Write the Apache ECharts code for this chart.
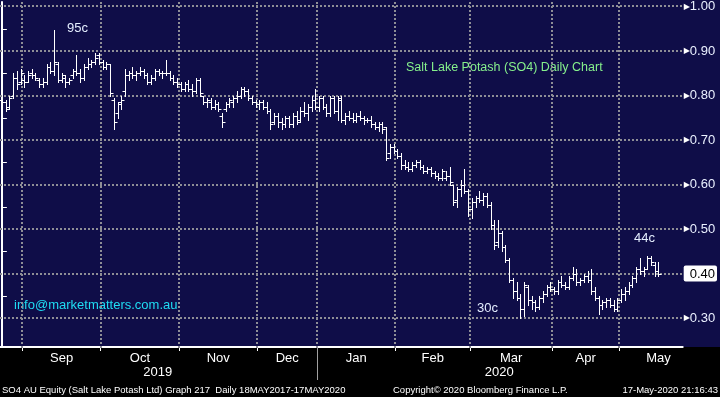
<!DOCTYPE html>
<html>
<head>
<meta charset="utf-8">
<script src="https://cdn.jsdelivr.net/npm/echarts@6/dist/echarts.min.js"></script>
<style>
html, body { margin: 0; padding: 0; background: #000; }
#main {
  width: 720px; height: 397px;
  background: linear-gradient(to bottom, #0f0d48 0px, #0f0d48 347px, #000000 347px, #000000 397px);
}
</style>
</head>
<body>
<div id="main"></div>
<script>
// month names for the x axis
var months = ['Sep', 'Oct', 'Nov', 'Dec', 'Jan', 'Feb', 'Mar', 'Apr', 'May'];
var years = ['2019', '2020'];
var priceTicks = [0.30, 0.40, 0.50, 0.60, 0.70, 0.80, 0.90, 1.00];
var minorTicks = [0.35, 0.45, 0.55, 0.65, 0.75, 0.85, 0.95];
var lastPrice = 0.40;

// daily bars, [open, high, low, close]
var aug = [
  [0.79, 0.80, 0.78, 0.785], [0.785, 0.79, 0.765, 0.77], [0.775, 0.80, 0.77, 0.795],
  [0.80, 0.85, 0.795, 0.84], [0.84, 0.855, 0.815, 0.825], [0.83, 0.86, 0.825, 0.85]
];
var sep = [
  [0.835, 0.845, 0.82, 0.83], [0.83, 0.855, 0.83, 0.845], [0.85, 0.86, 0.84, 0.845],
  [0.845, 0.85, 0.835, 0.84], [0.835, 0.84, 0.82, 0.825], [0.825, 0.84, 0.82, 0.83],
  [0.83, 0.87, 0.825, 0.865], [0.865, 0.875, 0.85, 0.855], [0.855, 0.947, 0.845, 0.875],
  [0.87, 0.875, 0.83, 0.835], [0.835, 0.85, 0.83, 0.845], [0.84, 0.845, 0.82, 0.83],
  [0.83, 0.84, 0.825, 0.835], [0.845, 0.86, 0.84, 0.855], [0.855, 0.89, 0.845, 0.85],
  [0.85, 0.86, 0.83, 0.84], [0.84, 0.87, 0.835, 0.865], [0.865, 0.885, 0.86, 0.87],
  [0.87, 0.88, 0.865, 0.875], [0.875, 0.895, 0.87, 0.885], [0.89, 0.895, 0.87, 0.875]
];
var oct = [
  [0.875, 0.88, 0.86, 0.865], [0.865, 0.875, 0.86, 0.87], [0.87, 0.87, 0.80, 0.805],
  [0.79, 0.795, 0.725, 0.74], [0.76, 0.785, 0.75, 0.78], [0.785, 0.80, 0.77, 0.79],
  [0.81, 0.86, 0.80, 0.845], [0.845, 0.855, 0.835, 0.85], [0.85, 0.865, 0.84, 0.845],
  [0.845, 0.855, 0.835, 0.85], [0.85, 0.865, 0.845, 0.855], [0.855, 0.86, 0.84, 0.845],
  [0.845, 0.85, 0.825, 0.83], [0.83, 0.845, 0.825, 0.84], [0.84, 0.86, 0.835, 0.855],
  [0.855, 0.86, 0.845, 0.85], [0.85, 0.855, 0.84, 0.85], [0.85, 0.88, 0.845, 0.85],
  [0.85, 0.855, 0.835, 0.84], [0.84, 0.845, 0.825, 0.83], [0.83, 0.84, 0.82, 0.825]
];
var nov = [
  [0.825, 0.83, 0.81, 0.815], [0.815, 0.83, 0.81, 0.825], [0.825, 0.835, 0.81, 0.815],
  [0.815, 0.825, 0.80, 0.81], [0.81, 0.84, 0.805, 0.835], [0.835, 0.84, 0.80, 0.805],
  [0.80, 0.80, 0.78, 0.785], [0.785, 0.795, 0.775, 0.79], [0.785, 0.795, 0.77, 0.775],
  [0.775, 0.79, 0.77, 0.78], [0.78, 0.785, 0.765, 0.77], [0.755, 0.76, 0.73, 0.74],
  [0.77, 0.785, 0.765, 0.78], [0.78, 0.795, 0.775, 0.79], [0.785, 0.80, 0.775, 0.795],
  [0.795, 0.81, 0.785, 0.80], [0.80, 0.82, 0.795, 0.815], [0.815, 0.82, 0.80, 0.81],
  [0.81, 0.815, 0.79, 0.795], [0.795, 0.80, 0.78, 0.785], [0.785, 0.79, 0.775, 0.78]
];
var dec = [
  [0.78, 0.79, 0.77, 0.785], [0.785, 0.79, 0.77, 0.775], [0.775, 0.785, 0.76, 0.765],
  [0.765, 0.77, 0.725, 0.735], [0.74, 0.76, 0.735, 0.755], [0.755, 0.76, 0.73, 0.74],
  [0.74, 0.75, 0.725, 0.735], [0.735, 0.755, 0.73, 0.75], [0.75, 0.755, 0.73, 0.735],
  [0.735, 0.76, 0.73, 0.755], [0.755, 0.765, 0.735, 0.74], [0.745, 0.775, 0.74, 0.765],
  [0.765, 0.785, 0.755, 0.76], [0.76, 0.78, 0.745, 0.775], [0.775, 0.80, 0.765, 0.79],
  [0.79, 0.815, 0.77, 0.775]
];
var jan = [
  [0.775, 0.80, 0.765, 0.795], [0.795, 0.80, 0.77, 0.775], [0.775, 0.78, 0.755, 0.76],
  [0.76, 0.80, 0.755, 0.795], [0.795, 0.80, 0.76, 0.765], [0.765, 0.80, 0.745, 0.795],
  [0.79, 0.80, 0.74, 0.745], [0.745, 0.76, 0.735, 0.755], [0.755, 0.765, 0.745, 0.75],
  [0.75, 0.76, 0.74, 0.745], [0.745, 0.76, 0.74, 0.755], [0.755, 0.765, 0.745, 0.75],
  [0.75, 0.755, 0.735, 0.745], [0.745, 0.75, 0.74, 0.745], [0.745, 0.755, 0.73, 0.735],
  [0.735, 0.74, 0.725, 0.73], [0.73, 0.74, 0.72, 0.735], [0.735, 0.74, 0.715, 0.725],
  [0.73, 0.73, 0.655, 0.66], [0.67, 0.69, 0.66, 0.685], [0.685, 0.69, 0.67, 0.675]
];
var feb = [
  [0.675, 0.68, 0.66, 0.665], [0.665, 0.67, 0.635, 0.645], [0.645, 0.655, 0.635, 0.64],
  [0.64, 0.65, 0.63, 0.635], [0.635, 0.65, 0.63, 0.645], [0.645, 0.655, 0.64, 0.65],
  [0.65, 0.655, 0.635, 0.64], [0.64, 0.645, 0.625, 0.63], [0.63, 0.64, 0.625, 0.635],
  [0.635, 0.64, 0.62, 0.625], [0.625, 0.63, 0.615, 0.62], [0.62, 0.625, 0.61, 0.615],
  [0.615, 0.635, 0.61, 0.63], [0.615, 0.63, 0.61, 0.62], [0.62, 0.64, 0.60, 0.605],
  [0.60, 0.60, 0.555, 0.56], [0.565, 0.595, 0.55, 0.59], [0.59, 0.61, 0.575, 0.60],
  [0.60, 0.635, 0.58, 0.585], [0.585, 0.59, 0.53, 0.545]
];
var mar = [
  [0.545, 0.57, 0.525, 0.56], [0.56, 0.575, 0.55, 0.57], [0.57, 0.585, 0.56, 0.565],
  [0.565, 0.58, 0.555, 0.575], [0.575, 0.58, 0.55, 0.555], [0.555, 0.56, 0.50, 0.51],
  [0.51, 0.52, 0.455, 0.465], [0.47, 0.52, 0.46, 0.49], [0.49, 0.495, 0.45, 0.46],
  [0.46, 0.465, 0.425, 0.43], [0.43, 0.435, 0.38, 0.385], [0.385, 0.39, 0.345, 0.36],
  [0.36, 0.38, 0.34, 0.345], [0.345, 0.355, 0.30, 0.32], [0.32, 0.38, 0.305, 0.375],
  [0.37, 0.375, 0.33, 0.34], [0.34, 0.35, 0.32, 0.335], [0.335, 0.34, 0.315, 0.325],
  [0.325, 0.35, 0.32, 0.345], [0.345, 0.36, 0.335, 0.355], [0.355, 0.375, 0.35, 0.37],
  [0.37, 0.38, 0.36, 0.365]
];
var apr = [
  [0.365, 0.37, 0.355, 0.36], [0.36, 0.385, 0.355, 0.38], [0.38, 0.395, 0.37, 0.375],
  [0.375, 0.38, 0.365, 0.37], [0.37, 0.395, 0.365, 0.39], [0.39, 0.415, 0.385, 0.40],
  [0.40, 0.41, 0.375, 0.38], [0.38, 0.39, 0.375, 0.385], [0.385, 0.40, 0.38, 0.395],
  [0.395, 0.405, 0.38, 0.385], [0.385, 0.41, 0.355, 0.36], [0.36, 0.37, 0.34, 0.345],
  [0.345, 0.35, 0.31, 0.33], [0.33, 0.34, 0.32, 0.335], [0.335, 0.345, 0.325, 0.34],
  [0.34, 0.345, 0.325, 0.33], [0.33, 0.34, 0.315, 0.32], [0.32, 0.345, 0.315, 0.34]
];
var may = [
  [0.34, 0.365, 0.335, 0.355], [0.355, 0.37, 0.34, 0.36], [0.36, 0.38, 0.355, 0.375],
  [0.375, 0.395, 0.37, 0.39], [0.39, 0.415, 0.38, 0.41], [0.41, 0.435, 0.40, 0.405],
  [0.405, 0.415, 0.395, 0.41], [0.41, 0.44, 0.41, 0.435], [0.435, 0.44, 0.42, 0.425],
  [0.42, 0.425, 0.395, 0.405], [0.405, 0.425, 0.395, 0.40]
];

var blocks = [aug, sep, oct, nov, dec, jan, feb, mar, apr, may];
var bars = [];
var monthStart = [];
blocks.forEach(function (b, m) {
  if (m > 0) monthStart.push(bars.length - 0.5);
  b.forEach(function (d) {
    bars.push([bars.length, d[0], d[1], d[2], d[3]]);
  });
});
var xMin = -0.5;
var xMax = bars.length + 5.5;
var yMin = 0.235;
var yMax = 1.01;
var monthEnd = monthStart.slice(1).concat([bars.length + 9.5]);
var monthMid = monthStart.map(function (s, i) { return (s + monthEnd[i]) / 2; });
var yearMid = [41.8, 133.3];
var yearSplit = [monthStart[4]];

function crisp(v) { return Math.round(v) + 0.5; }

// dotted grid built from small squares (2px dot, 2px gap)
function gridDots(api, cs) {
  var dots = [];
  var dotStyle = { fill: '#8e8e96' };
  priceTicks.forEach(function (v) {
    var y = Math.round(api.coord([0, v])[1]) - 1;
    for (var x = cs.x; x < cs.x + cs.width; x += 4) {
      dots.push({ type: 'rect', shape: { x: x, y: y, width: 2, height: 2 }, style: dotStyle });
    }
  });
  monthStart.forEach(function (v) {
    var x = Math.round(api.coord([v, yMin])[0]) - 1;
    for (var y = cs.y; y < cs.y + cs.height; y += 4) {
      dots.push({ type: 'rect', shape: { x: x, y: y, width: 2, height: 2 }, style: dotStyle });
    }
  });
  return dots;
}

function renderOhlc(params, api) {
  var x = crisp(api.coord([api.value(0), 0])[0]);
  var o = crisp(api.coord([0, api.value(1)])[1]);
  var h = crisp(api.coord([0, api.value(2)])[1]);
  var l = crisp(api.coord([0, api.value(3)])[1]);
  var c = crisp(api.coord([0, api.value(4)])[1]);
  var st = { stroke: '#ffffff', lineWidth: 1 };
  var children = [
    { type: 'line', shape: { x1: x, y1: h - 0.5, x2: x, y2: l + 0.5 }, style: st },
    { type: 'line', shape: { x1: x - 3, y1: o, x2: x, y2: o }, style: st },
    { type: 'line', shape: { x1: x, y1: c, x2: x + 3, y2: c }, style: st }
  ];
  // the first bar also lays down the background grid, so it sits under every bar
  if (params.dataIndex === 0) children = gridDots(api, params.coordSys).concat(children);
  return { type: 'group', children: children };
}

var font = 'Liberation Sans, Arial, sans-serif';

var myChart = echarts.init(document.getElementById('main'));
myChart.setOption({
  backgroundColor: 'transparent',
  animation: false,
  grid: { left: 0, right: 37, top: 0, bottom: 50, show: false },
  xAxis: [{
    type: 'value', min: xMin, max: xMax, position: 'bottom',
    axisLine: { show: true, lineStyle: { color: '#ffffff', width: 2 } },
    axisTick: { show: true, customValues: monthStart, length: 4, lineStyle: { color: '#ffffff', width: 1 } },
    splitLine: { show: false },
    axisLabel: {
      customValues: monthMid, margin: 5, color: '#ffffff', fontSize: 13, fontFamily: font,
      formatter: function (v) {
        var i = monthMid.indexOf(v);
        return i >= 0 ? months[i] : '';
      }
    }
  }, {
    type: 'value', min: xMin, max: xMax, position: 'bottom',
    axisLine: { show: false },
    axisTick: { show: true, customValues: yearSplit, length: 33, lineStyle: { color: '#a0a0a0', width: 1 } },
    splitLine: { show: false },
    axisLabel: {
      customValues: yearMid, margin: 19, color: '#ffffff', fontSize: 13, fontFamily: font,
      formatter: function (v) {
        var i = yearMid.indexOf(v);
        return i >= 0 ? years[i] : '';
      }
    }
  }],
  yAxis: [{
    type: 'value', min: yMin, max: yMax, position: 'right',
    axisLine: { show: true, lineStyle: { color: '#ffffff', width: 2 } },
    axisTick: { show: false, customValues: priceTicks },
    splitLine: { show: false },
    axisLabel: {
      customValues: priceTicks, margin: 1, fontFamily: font,
      formatter: function (v) {
        if (Math.abs(v - lastPrice) < 1e-6) return '{box|' + v.toFixed(2) + '}';
        return '{t|\u25B6}{v|' + v.toFixed(2) + '}';
      },
      rich: {
        t: { color: '#ffffff', fontSize: 8, fontFamily: 'DejaVu Sans' },
        v: { color: '#eaf0ff', fontSize: 13, fontFamily: font },
        box: {
          color: '#000000', fontSize: 13, fontFamily: font, backgroundColor: '#ffffff',
          padding: [2, 2, 1, 6], borderRadius: 2
        }
      }
    }
  }, {
    type: 'value', min: yMin, max: yMax, position: 'right',
    axisLine: { show: false },
    axisTick: { show: true, customValues: minorTicks, length: 5, lineStyle: { color: '#ffffff', width: 1 } },
    splitLine: { show: false },
    axisLabel: { show: false }
  }],
  graphic: [
    { type: 'text', left: 67, top: 22, style: { text: '95c', fill: '#e4eeff', font: '13px ' + font } },
    { type: 'text', left: 406, top: 61, style: { text: 'Salt Lake Potash (SO4) Daily Chart', fill: '#86f08c', font: '12.5px ' + font } },
    { type: 'text', left: 634, top: 232, style: { text: '44c', fill: '#e4eeff', font: '13px ' + font } },
    { type: 'text', left: 477, top: 302, style: { text: '30c', fill: '#e4eeff', font: '13px ' + font } },
    { type: 'text', left: 14, top: 299, style: { text: 'info@marketmatters.com.au', fill: '#1fdcf2', font: '13px ' + font } },
    { type: 'text', left: 2, top: 385, style: { text: 'SO4 AU Equity (Salt Lake Potash Ltd) Graph 217  Daily 18MAY2017-17MAY2020', fill: '#ffffff', font: '9.5px ' + font } },
    { type: 'text', left: 393, top: 385, style: { text: 'Copyright\u00A9 2020 Bloomberg Finance L.P.', fill: '#ffffff', font: '9.5px ' + font } },
    { type: 'text', right: 2, top: 385, style: { text: '17-May-2020 21:16:43', fill: '#ffffff', font: '9.5px ' + font } }
  ],
  series: [{
    name: 'SO4',
    type: 'custom',
    renderItem: renderOhlc,
    encode: { x: 0, y: [1, 2, 3, 4] },
    data: bars
  }]
});
</script>
</body>
</html>
